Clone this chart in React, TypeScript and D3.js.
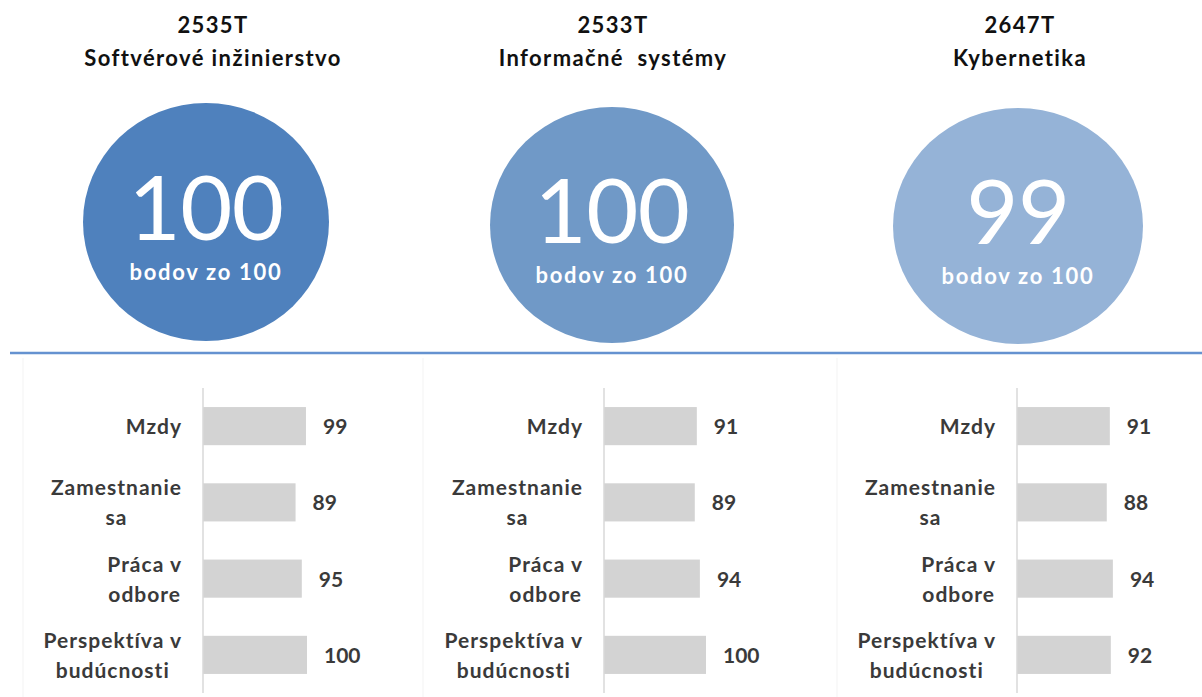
import React, { useEffect, useRef } from "react";
import * as d3 from "d3";

const programCodes = ["2535T", "2533T", "2647T"];
const programNames = ["Softvérové inžinierstvo", "Informačné  systémy", "Kybernetika"];
const totalScores = [100, 100, 99];
const totalMax = 100;
const categories = ["Mzdy", "Zamestnanie sa", "Práca v odbore", "Perspektíva v budúcnosti"];
const categoryLines = [["Mzdy"], ["Zamestnanie", "sa"], ["Práca v", "odbore"], ["Perspektíva v", "budúcnosti"]];
const scoresSoftver = [99, 89, 95, 100];
const scoresInfo = [91, 89, 94, 100];
const scoresKyber = [91, 88, 94, 92];
const panelScores = [scoresSoftver, scoresInfo, scoresKyber];

const W = 1202;
const H = 697;
const FONT = "Lato, 'Open Sans', sans-serif";

// layout
const circleCx = [206, 612, 1018];
const circleCy = [222, 225, 226];
const circleRx = [123, 122, 125];
const circleRy = [119, 118, 118];
const circleColors = ["#4f81bd", "#7099c7", "#95b3d7"];
const titleCx = [213, 613, 1020];
const axisX = [203, 604, 1017];
const barSpan = [104, 102, 102];
const panelLines = [23, 423, 837];

export default function App() {
  const ref = useRef<SVGSVGElement | null>(null);

  useEffect(() => {
    const svg = d3.select(ref.current);
    svg.selectAll("*").remove();

    // faint panel frames
    panelLines.forEach((l) => {
      svg.append("line")
        .attr("x1", l).attr("x2", l).attr("y1", 358).attr("y2", H)
        .attr("stroke", "#f3f3f3").attr("stroke-width", 1);
    });

    // titles
    programCodes.forEach((c, i) => {
      const t = svg.append("text")
        .attr("text-anchor", "middle")
        .attr("font-family", FONT)
        .attr("font-weight", 700)
        .attr("font-size", 22)
        .attr("letter-spacing", 1.4)
        .attr("fill", "#111")
        .style("white-space", "pre");
      t.append("tspan").attr("x", titleCx[i]).attr("y", 33).text(c);
      t.append("tspan").attr("x", titleCx[i]).attr("y", 66).text(programNames[i]);
    });

    // circles
    totalScores.forEach((s, i) => {
      svg.append("ellipse")
        .attr("cx", circleCx[i]).attr("cy", circleCy[i])
        .attr("rx", circleRx[i]).attr("ry", circleRy[i])
        .attr("fill", circleColors[i]);
      svg.append("text")
        .attr("x", circleCx[i]).attr("y", circleCy[i] + 18)
        .attr("text-anchor", "middle")
        .attr("font-family", FONT)
        .attr("font-weight", 400)
        .attr("font-size", 90)
        .attr("letter-spacing", -0.5)
        .attr("fill", "#fff")
        .text(String(s));
      svg.append("text")
        .attr("x", circleCx[i]).attr("y", circleCy[i] + 58)
        .attr("text-anchor", "middle")
        .attr("font-family", FONT)
        .attr("font-weight", 700)
        .attr("font-size", 22)
        .attr("letter-spacing", 1.7)
        .attr("fill", "#fff")
        .text(`bodov zo ${totalMax}`);
    });

    // separator
    svg.append("line")
      .attr("x1", 10).attr("x2", W).attr("y1", 353).attr("y2", 353)
      .attr("stroke", "#6592d0").attr("stroke-width", 2.5);

    // bar panels
    const y = d3.scaleBand<string>()
      .domain(categories)
      .range([388, 693])
      .paddingInner(0.5)
      .paddingOuter(0.25);

    panelScores.forEach((vals, p) => {
      const x = d3.scaleLinear().domain([0, 100]).range([axisX[p], axisX[p] + barSpan[p]]);
      const g = svg.append("g");

      g.selectAll("rect.bar")
        .data(vals)
        .enter()
        .append("rect")
        .attr("x", x(0))
        .attr("y", (_d, i) => y(categories[i]) as number)
        .attr("width", (d) => x(d) - x(0))
        .attr("height", y.bandwidth())
        .attr("fill", "#d3d3d3");

      g.append("line")
        .attr("x1", x(0)).attr("x2", x(0))
        .attr("y1", y.range()[0]).attr("y2", y.range()[1])
        .attr("stroke", "#d9d9d9").attr("stroke-width", 1.5);

      g.selectAll("text.val")
        .data(vals)
        .enter()
        .append("text")
        .attr("x", (d) => x(d) + 17)
        .attr("y", (_d, i) => (y(categories[i]) as number) + y.bandwidth() / 2 + 8)
        .attr("font-family", FONT)
        .attr("font-weight", 700)
        .attr("font-size", 21)
        .attr("fill", "#3a3a3a")
        .text((d) => String(d));

      // category labels (centered block, right-aligned to gap)
      const rightEdge = axisX[p] - 21;
      categoryLines.forEach((lines, i) => {
        const cy = (y(categories[i]) as number) + y.bandwidth() / 2;
        const lh = 30;
        const t = g.append("text")
          .attr("text-anchor", "middle")
          .attr("font-family", FONT)
          .attr("font-weight", 700)
          .attr("font-size", 21)
          .attr("letter-spacing", 1)
          .attr("fill", "#3a3a3a");
        const spans = lines.map((ln, k) =>
          t.append("tspan")
            .attr("y", cy + 8 + (k - (lines.length - 1) / 2) * lh)
            .text(ln)
        );
        let maxW = 0;
        spans.forEach((s) => {
          const node = s.node() as SVGTSpanElement;
          const w = node.getComputedTextLength();
          if (w > maxW) maxW = w;
        });
        spans.forEach((s) => s.attr("x", rightEdge - maxW / 2));
      });
    });
  }, []);

  return (
    <svg ref={ref} width={W} height={H} style={{ display: "block", position: "absolute", left: 0, top: 0, background: "#fff" }} />
  );
}
